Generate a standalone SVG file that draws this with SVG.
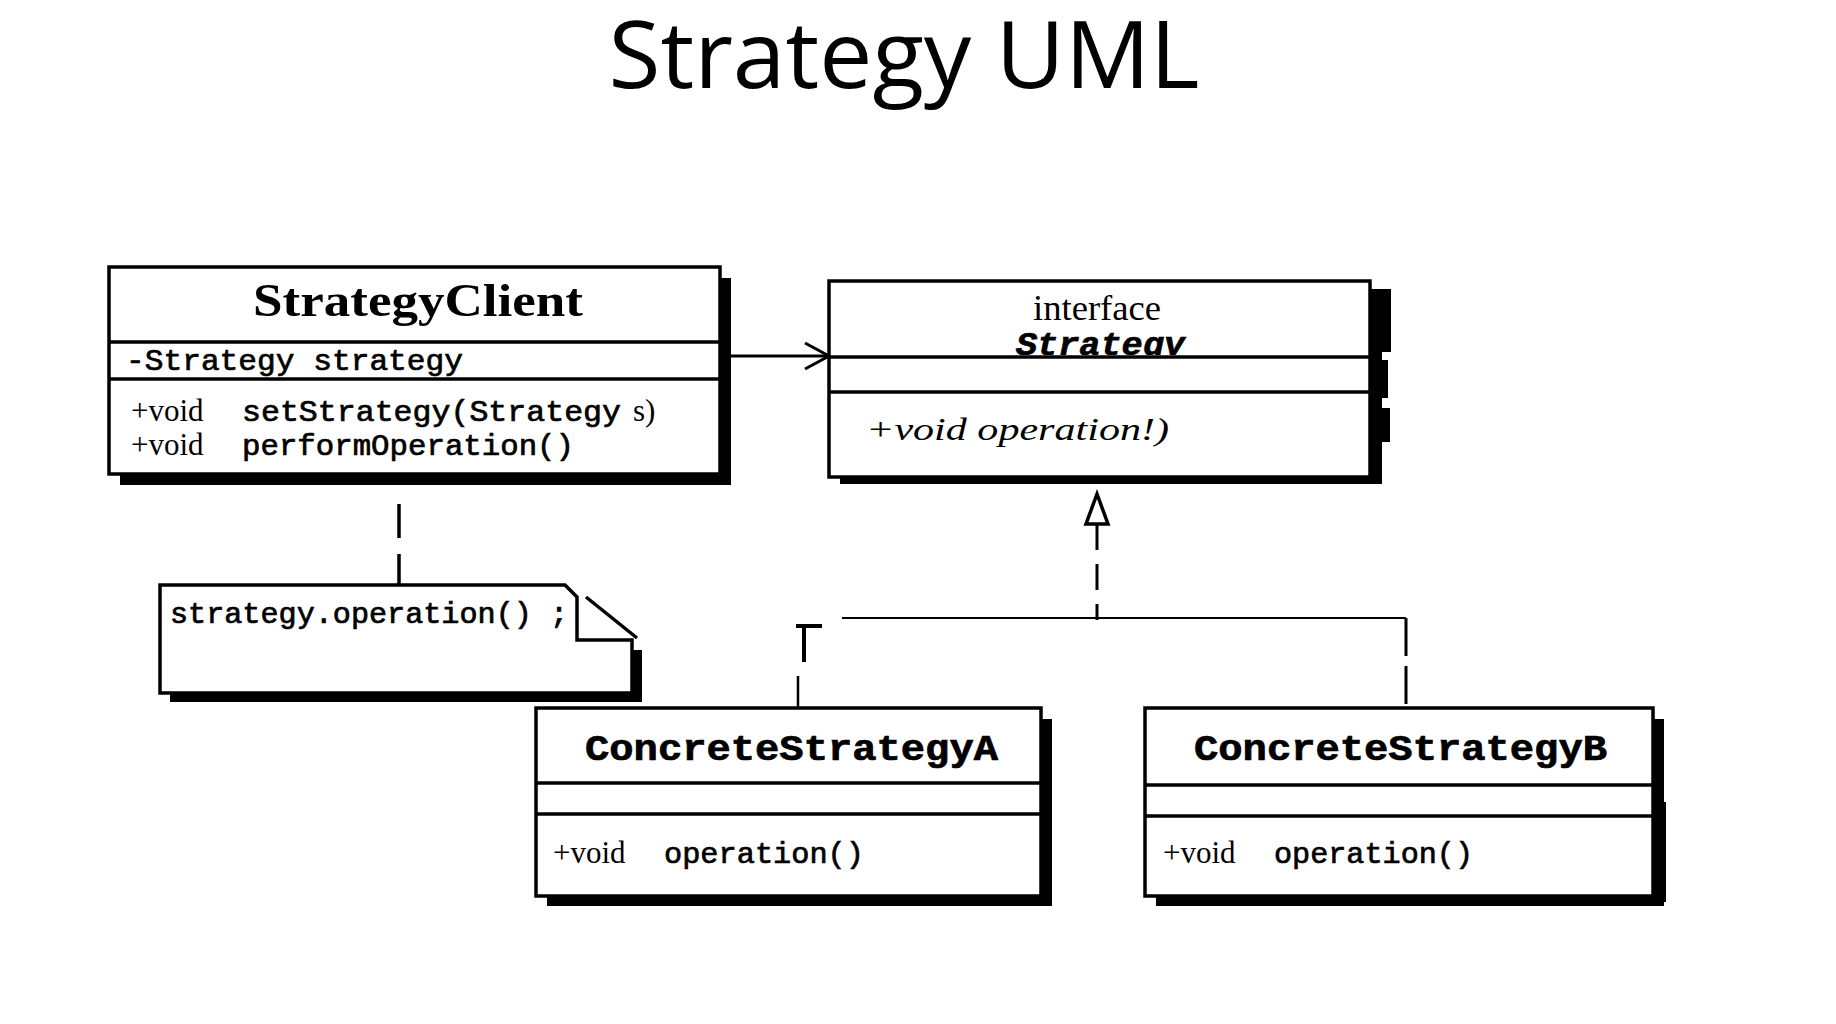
<svg xmlns="http://www.w3.org/2000/svg" width="1836" height="1024" viewBox="0 0 1836 1024">
  <style>
    .box { fill: #fff; stroke: #000; stroke-width: 3.5; }
    .shadow { fill: #000; }
    .div { stroke: #000; stroke-width: 3.5; }
    .serif { font-family: "Liberation Serif", "Times New Roman", serif; fill: #000; }
    .mono { font-family: "Liberation Mono", "Courier New", monospace; fill: #000; stroke: #000; stroke-width: 0.7; }
    .line { stroke: #000; fill: none; }
  </style>
  <defs>
    <clipPath id="strategyHead">
      <rect x="829" y="281" width="541" height="74"/>
    </clipPath>
  </defs>
  <rect width="1836" height="1024" fill="#fff"/>

  <!-- title -->
  <text x="904" y="88" text-anchor="middle" font-family="Open Sans, Noto Sans, sans-serif" font-size="94" textLength="591" lengthAdjust="spacingAndGlyphs">Strategy UML</text>

  <!-- connectors -->
  <g id="connectors">
    <!-- association client -> strategy -->
    <line class="line" x1="728" y1="356" x2="827" y2="356" stroke-width="3"/>
    <polyline class="line" points="805,343 829,356 805,369" stroke-width="3"/>
    <!-- note anchor -->
    <line class="line" x1="399" y1="476" x2="399" y2="585" stroke-width="3.5" stroke-dasharray="0 28 34 16 30"/>
    <!-- realization -->
    <polygon points="1097,494 1086,524 1108,524" fill="#fff" stroke="#000" stroke-width="3.5"/>
    <line class="line" x1="1097" y1="524" x2="1097" y2="620" stroke-width="3" stroke-dasharray="26 14"/>
    <line class="line" x1="842" y1="618" x2="1406" y2="618" stroke-width="2"/>
    <line class="line" x1="1406" y1="618" x2="1406" y2="708" stroke-width="3" stroke-dasharray="38 10"/>
    <path class="line" d="M796,626 H822 M804,626 V662" stroke-width="4"/>
    <line class="line" x1="798" y1="676" x2="798" y2="708" stroke-width="2.5"/>
  </g>

  <!-- StrategyClient -->
  <g id="strategy-client">
    <rect class="shadow" x="120" y="278" width="611" height="207"/>
    <rect class="box" x="109" y="267" width="611" height="207"/>
    <line class="div" x1="109" y1="342" x2="720" y2="342"/>
    <line class="div" x1="109" y1="379" x2="720" y2="379"/>
    <text class="serif" x="418" y="316" text-anchor="middle" font-size="46" font-weight="bold" textLength="330" lengthAdjust="spacingAndGlyphs">StrategyClient</text>
    <text class="mono" x="126" y="370" font-size="30" textLength="337" lengthAdjust="spacingAndGlyphs">-Strategy strategy</text>
    <text class="serif" x="131" y="421" font-size="31">+void</text>
    <text class="mono" x="242" y="421" font-size="30" textLength="379" lengthAdjust="spacingAndGlyphs">setStrategy(Strategy</text>
    <text class="serif" x="633" y="421" font-size="31">s)</text>
    <text class="serif" x="131" y="455" font-size="31">+void</text>
    <text class="mono" x="242" y="455" font-size="30" textLength="332" lengthAdjust="spacingAndGlyphs">performOperation()</text>
  </g>

  <!-- Strategy interface -->
  <g id="strategy">
    <rect class="shadow" x="840" y="290" width="542" height="194"/>
    <rect class="shadow" x="1368" y="289" width="23" height="63"/>
    <rect class="shadow" x="1368" y="360" width="20" height="38"/>
    <rect class="shadow" x="1368" y="408" width="22" height="34"/>
    <rect class="box" x="829" y="281" width="541" height="196"/>
    <text class="serif" x="1097" y="320" text-anchor="middle" font-size="35" textLength="128" lengthAdjust="spacingAndGlyphs">interface</text>
    <text class="mono" x="1016" y="355" font-size="33" font-weight="bold" font-style="italic" textLength="169" lengthAdjust="spacingAndGlyphs" clip-path="url(#strategyHead)">Strategy</text>
    <line class="div" x1="829" y1="357" x2="1370" y2="357"/>
    <line class="div" x1="829" y1="392" x2="1370" y2="392"/>
    <text class="serif" x="866" y="440" font-size="31" font-style="italic" textLength="303" lengthAdjust="spacingAndGlyphs">+void  operation!)</text>
  </g>

  <!-- note -->
  <g id="note">
    <polygon class="shadow" points="170,702 642,702 642,650 632,650 632,693 170,693"/>
    <polygon points="160,585 565,585 577,597 577,640 632,640 632,693 160,693" fill="#fff" stroke="#000" stroke-width="3.5"/>
    <line class="line" x1="586" y1="597" x2="637" y2="638" stroke-width="3.5"/>
    <text class="mono" x="170" y="623" font-size="29" textLength="398" lengthAdjust="spacingAndGlyphs">strategy.operation() ;</text>
  </g>

  <!-- ConcreteStrategyA -->
  <g id="concrete-strategy-a">
    <rect class="shadow" x="547" y="719" width="505" height="187"/>
    <rect class="box" x="536" y="708" width="505" height="188"/>
    <line class="div" x1="536" y1="783" x2="1041" y2="783"/>
    <line class="div" x1="536" y1="814" x2="1041" y2="814"/>
    <text class="mono" x="585" y="760" font-size="36" font-weight="bold" textLength="413" lengthAdjust="spacingAndGlyphs">ConcreteStrategyA</text>
    <text class="serif" x="553" y="863" font-size="31">+void</text>
    <text class="mono" x="664" y="863" font-size="30" textLength="200" lengthAdjust="spacingAndGlyphs">operation()</text>
  </g>

  <!-- ConcreteStrategyB -->
  <g id="concrete-strategy-b">
    <rect class="shadow" x="1156" y="719" width="508" height="187"/>
    <rect class="shadow" x="1642" y="720" width="18" height="41"/>
    <rect class="shadow" x="1649" y="761" width="14" height="22"/>
    <rect class="shadow" x="1651" y="802" width="15" height="100"/>
    <rect class="box" x="1145" y="708" width="508" height="188"/>
    <line class="div" x1="1145" y1="785" x2="1653" y2="785"/>
    <line class="div" x1="1145" y1="816" x2="1653" y2="816"/>
    <text class="mono" x="1194" y="760" font-size="36" font-weight="bold" textLength="413" lengthAdjust="spacingAndGlyphs">ConcreteStrategyB</text>
    <text class="serif" x="1163" y="863" font-size="31">+void</text>
    <text class="mono" x="1274" y="863" font-size="30" textLength="199" lengthAdjust="spacingAndGlyphs">operation()</text>
  </g>
</svg>
